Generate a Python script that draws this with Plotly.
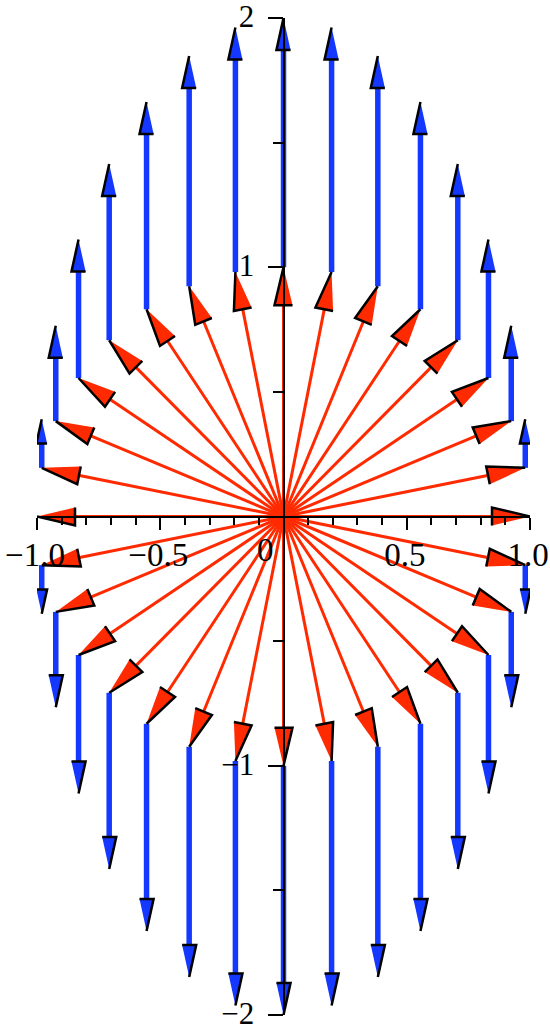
import numpy as np
import plotly.graph_objects as go

# ---- data ----
angles_deg = [0.0, 11.25, 22.5, 33.75, 45.0, 56.25, 67.5, 78.75,
              90.0, 101.25, 112.5, 123.75, 135.0, 146.25, 157.5, 168.75,
              180.0, 191.25, 202.5, 213.75, 225.0, 236.25, 247.5, 258.75,
              270.0, 281.25, 292.5, 303.75, 315.0, 326.25, 337.5, 348.75]
red_radius = 1.0          # red arrows: origin -> point on unit circle
blue_y_stretch = 2.0      # blue arrows: circle point -> (x, 2*y)

x_tick_vals = [-1.0, -0.5, 0.5, 1.0]
x_tick_text = ["\u22121.0", "\u22120.5", "0.5", "1.0"]
y_tick_vals = [-2, -1, 1, 2]
y_tick_text = ["\u22122", "\u22121", "1", "2"]
x_minor_vals = [-0.9, -0.8, -0.7, -0.6, -0.4, -0.3, -0.2, -0.1,
                0.1, 0.2, 0.3, 0.4, 0.6, 0.7, 0.8, 0.9]
y_minor_vals = [-1.5, -0.5, 0.5, 1.5]

# ---- styling / geometry ----
W, H = 550, 1030
ML, MR, MT, MB = 37, 20, 18, 15
XR = [-1.0, 1.0]
YR = [-2.0, 2.0]
sx = (W - ML - MR) / (XR[1] - XR[0])
sy = (H - MT - MB) / (YR[1] - YR[0])
RED = "#FF2A00"
BLUE = "#1438FF"
FONT = "Liberation Serif"
FS = 33


def arrow_parts(x0, y0, x1, y1, hl, hw):
    dx, dy = (x1 - x0) * sx, (y1 - y0) * sy
    L = np.hypot(dx, dy)
    ux, uy = dx / L, dy / L
    lx, ly = -uy, ux
    bx, by = x1 - ux * hl / sx, y1 - uy * hl / sy
    blx, bly = bx + lx * hw / sx, by + ly * hw / sy
    brx, bry = bx - lx * hw / sx, by - ly * hw / sy
    shaft = ([x0, bx + ux * 2 / sx], [y0, by + uy * 2 / sy])
    headp = ([x1, blx, brx, x1], [y1, bly, bry, y1])
    outline = ([x1, blx, brx], [y1, bly, bry])
    return shaft, headp, outline


def collect(parts_list):
    xs, ys = [], []
    for px, py in parts_list:
        xs += list(px) + [None]
        ys += list(py) + [None]
    return xs, ys


red_sh, red_hd, red_ol = [], [], []
blu_sh, blu_hd, blu_ol = [], [], []
for a in angles_deg:
    t = np.deg2rad(a)
    cx, cy = red_radius * np.cos(t), red_radius * np.sin(t)
    s, h, o = arrow_parts(0.0, 0.0, cx, cy, 38, 9)
    red_sh.append(s); red_hd.append(h); red_ol.append(o)
    ey = blue_y_stretch * cy
    Lpx = abs(ey - cy) * sy
    if Lpx > 1:
        hl = min(32.0, 0.5 * Lpx)
        s, h, o = arrow_parts(cx, cy, cx, ey, hl, hl * 0.22)
        blu_sh.append(s); blu_hd.append(h); blu_ol.append(o)

fig = go.Figure()


def add_line(parts, color, width):
    xs, ys = collect(parts)
    fig.add_trace(go.Scatter(x=xs, y=ys, mode="lines",
                             line=dict(color=color, width=width),
                             hoverinfo="skip"))


def add_fill(parts, color):
    xs, ys = collect(parts)
    fig.add_trace(go.Scatter(x=xs, y=ys, mode="lines", fill="toself",
                             fillcolor=color, line=dict(width=0, color=color),
                             hoverinfo="skip"))


add_line(blu_sh, BLUE, 5.5)
add_fill(blu_hd, BLUE)
add_line(blu_ol, "black", 2.5)
add_line(red_sh, RED, 3)
add_fill(red_hd, RED)
add_line(red_ol, "black", 2.5)

fig.add_annotation(x=0, y=0, xref="x", yref="y", text="0", showarrow=False,
                   xshift=-18, yshift=-33, font=dict(family=FONT, size=FS, color="black"))

axis_common = dict(showline=True, linecolor="black", linewidth=2,
                   ticks="outside", tickwidth=2, tickcolor="black",
                   tickmode="array", showgrid=False, zeroline=False,
                   layer="above traces", anchor="free", position=0.5,
                   automargin=False, fixedrange=True,
                   ticklabeloverflow="allow")

fig.update_layout(
    width=W, height=H,
    margin=dict(l=ML, r=MR, t=MT, b=MB),
    paper_bgcolor="white", plot_bgcolor="white",
    showlegend=False,
    xaxis=dict(range=XR, tickvals=x_tick_vals, ticktext=x_tick_text, ticklen=12,
               side="bottom", ticklabelstandoff=-3, ticklabelshift=-2,
               tickfont=dict(family=FONT, size=FS, color="black"),
               minor=dict(tickvals=x_minor_vals, ticklen=7, tickwidth=2,
                          tickcolor="black", ticks="outside", showgrid=False),
               **axis_common),
    yaxis=dict(range=YR, tickvals=y_tick_vals, ticktext=y_tick_text, ticklen=15,
               side="left", ticklabelstandoff=7, ticklabelshift=-2,
               tickfont=dict(family=FONT, size=31, color="black"),
               minor=dict(tickvals=y_minor_vals, ticklen=10, tickwidth=2,
                          tickcolor="black", ticks="outside", showgrid=False),
               **axis_common),
)

fig.write_html("out.html", config={"displayModeBar": False},
               post_script="document.body.style.margin='0';document.body.style.overflow='hidden';")
